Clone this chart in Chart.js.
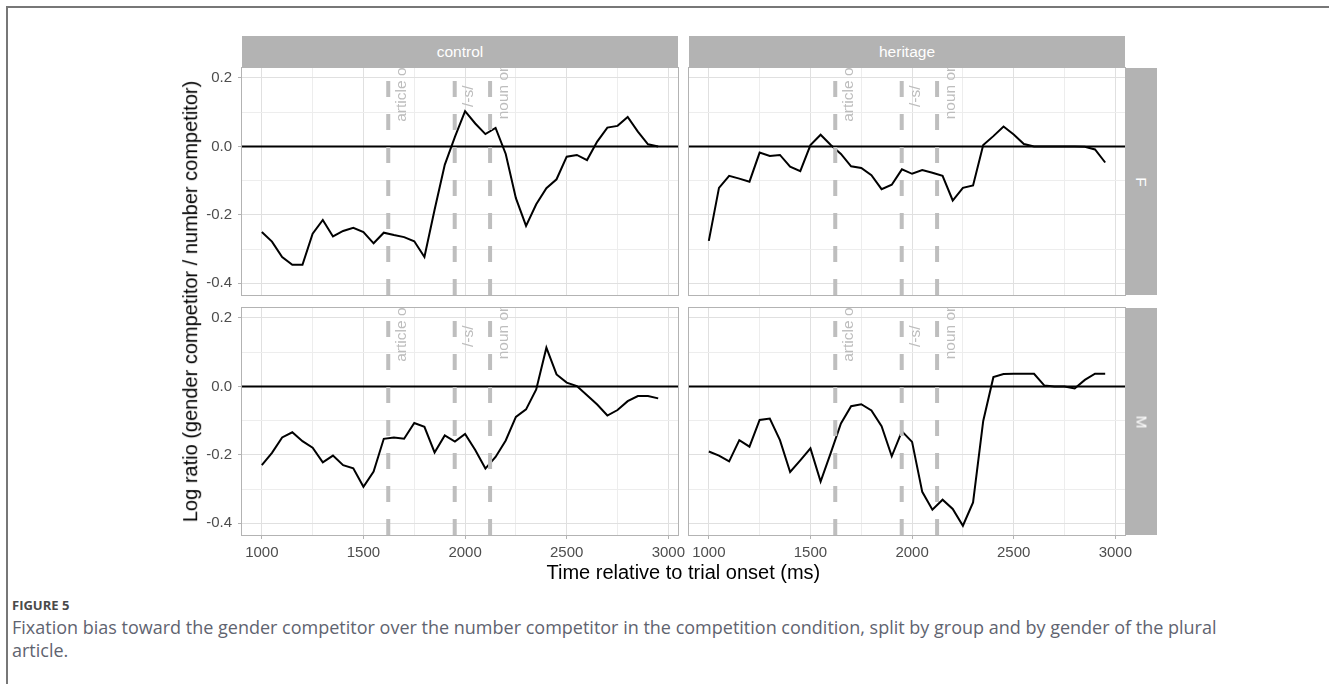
<!DOCTYPE html>
<html>
<head>
<meta charset="utf-8">
<script src="https://cdn.jsdelivr.net/npm/chart.js@4.4.1/dist/chart.umd.min.js"></script>
<style>
  html, body { margin: 0; padding: 0; background: #fff; }
  body { width: 1329px; height: 684px; position: relative; overflow: hidden; font-family: "Liberation Sans", Arial, sans-serif; }
  .frame { position: absolute; left: 6px; top: 6px; width: 1400px; height: 800px; border-top: 2px solid #777; border-left: 2px solid #777; }
  canvas { position: absolute; }
  .strip { position: absolute; background: #b3b3b3; color: #fff; font-size: 15.5px; display: flex; align-items: center; justify-content: center; }
  .strip.side span { display: inline-block; transform: rotate(90deg); }
  .axis-title { position: absolute; font-size: 20px; color: #000; white-space: nowrap; }
  .caption-label { position: absolute; left: 12px; top: 596px; font-family: "Open Sans", sans-serif; font-weight: 700; font-size: 13px; color: #4a4a4a; }
  .caption { position: absolute; left: 12px; top: 616px; font-family: "Open Sans", sans-serif; font-size: 18px; line-height: 23px; color: #5f6470; white-space: nowrap; }
</style>
</head>
<body>
<div class="frame"></div>

<canvas id="cF"></canvas>
<canvas id="hF"></canvas>
<canvas id="cM"></canvas>
<canvas id="hM"></canvas>

<div class="strip" style="left:242px; top:36px; width:436px; height:32px;">control</div>
<div class="strip" style="left:689px; top:36px; width:436px; height:32px;">heritage</div>
<div class="strip side" style="left:1125px; top:68px; width:32px; height:227px;"><span>F</span></div>
<div class="strip side" style="left:1125px; top:308px; width:32px; height:227px;"><span>M</span></div>

<div class="axis-title" id="xTitle">Time relative to trial onset (ms)</div>
<div class="axis-title" id="yTitle">Log ratio (gender competitor / number competitor)</div>

<div class="caption-label">FIGURE 5</div>
<div class="caption">Fixation bias toward the gender competitor over the number competitor in the competition condition, split by group and by gender of the plural<br>article.</div>

<script>
// time bins (ms)
const times = [1000, 1050, 1100, 1150, 1200, 1250, 1300, 1350, 1400, 1450,
               1500, 1550, 1600, 1650, 1700, 1750, 1800, 1850, 1900, 1950,
               2000, 2050, 2100, 2150, 2200, 2250, 2300, 2350, 2400, 2450,
               2500, 2550, 2600, 2650, 2700, 2750, 2800, 2850, 2900, 2950];

// log ratio per group x article gender
const controlF = [-0.250, -0.278, -0.323, -0.346, -0.346, -0.255, -0.215, -0.263, -0.247, -0.238,
                  -0.250, -0.283, -0.252, -0.259, -0.265, -0.277, -0.323, -0.185, -0.054, 0.028,
                  0.103, 0.067, 0.036, 0.054, -0.022, -0.151, -0.232, -0.169, -0.122, -0.096,
                  -0.030, -0.025, -0.040, 0.014, 0.055, 0.060, 0.086, 0.043, 0.006, 0.000];
const controlM = [-0.230, -0.194, -0.149, -0.134, -0.160, -0.179, -0.222, -0.202, -0.230, -0.239,
                  -0.293, -0.249, -0.153, -0.149, -0.153, -0.107, -0.118, -0.193, -0.143, -0.161,
                  -0.139, -0.186, -0.240, -0.206, -0.158, -0.089, -0.067, -0.009, 0.113, 0.035,
                  0.011, 0.001, -0.026, -0.053, -0.085, -0.069, -0.043, -0.028, -0.028, -0.035];
const heritageF = [-0.276, -0.121, -0.086, -0.094, -0.103, -0.018, -0.028, -0.025, -0.059, -0.072,
                   0.004, 0.034, 0.004, -0.022, -0.058, -0.063, -0.084, -0.125, -0.112, -0.067,
                   -0.080, -0.069, -0.077, -0.086, -0.158, -0.121, -0.114, 0.004, 0.030, 0.058,
                   0.035, 0.007, 0.000, 0.000, 0.000, 0.000, 0.000, -0.001, -0.009, -0.047];
const heritageM = [-0.190, -0.202, -0.219, -0.157, -0.176, -0.098, -0.094, -0.157, -0.250, -0.216,
                   -0.181, -0.278, -0.194, -0.108, -0.058, -0.052, -0.070, -0.116, -0.204, -0.131,
                   -0.162, -0.308, -0.360, -0.331, -0.358, -0.407, -0.339, -0.101, 0.027, 0.036,
                   0.037, 0.037, 0.037, 0.003, 0.000, 0.000, -0.006, 0.019, 0.037, 0.037];

// event markers
const eventTimes = [1622, 1949, 2123];
const eventLabels = ['article onset', '/-s/', 'noun onset'];
const eventLabelY = [0.072, 0.115, 0.079];

// axis breaks
const xMajor = [1000, 1500, 2000, 2500, 3000];
const xMinor = [1250, 1750, 2250, 2750];
const yMajor = [-0.4, -0.2, 0.0, 0.2];
const yMinor = [-0.3, -0.1, 0.1];

const X_MIN = 902.5, X_MAX = 3047.5;
const Y_MIN = -0.434, Y_MAX = 0.229;

const M = 40;           // margin around each plot area inside its canvas
const PW = 436, PH = 227;
const FONT = '"Liberation Sans", Arial, sans-serif';

const isMajor = (list, v) => list.some(m => Math.abs(m - v) < 1e-9);

// zero line under the data, event lines and labels above it, frame last
const panelDecor = {
  id: 'panelDecor',
  beforeDatasetsDraw(chart) {
    const { ctx, chartArea: a, scales: { y } } = chart;
    const y0 = y.getPixelForValue(0);
    ctx.save();
    ctx.strokeStyle = '#000';
    ctx.lineWidth = 2;
    ctx.beginPath();
    ctx.moveTo(a.left, y0);
    ctx.lineTo(a.right, y0);
    ctx.stroke();
    ctx.restore();
  },
  afterDatasetsDraw(chart) {
    const { ctx, chartArea: a, scales: { x, y } } = chart;
    ctx.save();
    ctx.beginPath();
    ctx.rect(a.left, a.top, a.right - a.left, a.bottom - a.top);
    ctx.clip();
    ctx.strokeStyle = '#bebebe';
    ctx.lineWidth = 4;
    ctx.setLineDash([16, 17]);
    eventTimes.forEach(t => {
      const px = x.getPixelForValue(t);
      ctx.beginPath();
      ctx.moveTo(px, a.bottom);
      ctx.lineTo(px, a.top);
      ctx.stroke();
    });
    ctx.setLineDash([]);
    ctx.fillStyle = '#bdbdbd';
    ctx.font = '15.5px ' + FONT;
    ctx.textAlign = 'left';
    ctx.textBaseline = 'alphabetic';
    eventTimes.forEach((t, i) => {
      ctx.save();
      ctx.translate(x.getPixelForValue(t) + 18, y.getPixelForValue(eventLabelY[i]));
      ctx.rotate(-Math.PI / 2);
      ctx.fillText(eventLabels[i], 0, 0);
      ctx.restore();
    });
    ctx.restore();
  },
  afterDraw(chart) {
    const { ctx, chartArea: a } = chart;
    ctx.save();
    ctx.strokeStyle = '#b3b3b3';
    ctx.lineWidth = 1;
    ctx.strokeRect(a.left - 0.5, a.top - 0.5, a.right - a.left + 1, a.bottom - a.top + 1);
    ctx.restore();
  }
};

function makePanel(id, values, left, top, showX, showY) {
  const el = document.getElementById(id);
  el.width = PW + 2 * M;
  el.height = PH + 2 * M;
  el.style.left = (left - M) + 'px';
  el.style.top = (top - M) + 'px';

  return new Chart(el, {
    type: 'line',
    data: {
      datasets: [{
        data: times.map((t, i) => ({ x: t, y: values[i] })),
        borderColor: '#000',
        borderWidth: 2,
        pointRadius: 0,
        tension: 0,
        fill: false
      }]
    },
    options: {
      responsive: false,
      animation: false,
      devicePixelRatio: 1,
      layout: { padding: { left: showY ? 0 : M, right: M, top: M, bottom: showX ? 0 : M } },
      plugins: { legend: { display: false }, tooltip: { enabled: false } },
      scales: {
        x: {
          type: 'linear',
          min: X_MIN,
          max: X_MAX,
          afterBuildTicks: s => { s.ticks = xMajor.concat(xMinor).sort((p, q) => p - q).map(v => ({ value: v })); },
          afterFit: s => { s.height = showX ? M : 0; },
          border: { display: false },
          grid: {
            color: c => isMajor(xMajor, c.tick.value) ? '#e0e0e0' : '#ededed',
            lineWidth: 1,
            drawTicks: showX,
            tickLength: 4,
            tickColor: c => isMajor(xMajor, c.tick.value) ? '#b3b3b3' : 'rgba(0,0,0,0)'
          },
          ticks: {
            display: showX,
            autoSkip: false,
            maxRotation: 0,
            padding: 5,
            color: '#4d4d4d',
            font: { family: FONT, size: 15 },
            callback: v => isMajor(xMajor, v) ? String(v) : ''
          }
        },
        y: {
          type: 'linear',
          min: Y_MIN,
          max: Y_MAX,
          afterBuildTicks: s => { s.ticks = yMajor.concat(yMinor).sort((p, q) => p - q).map(v => ({ value: v })); },
          afterFit: s => { s.width = showY ? M : 0; },
          border: { display: false },
          grid: {
            color: c => isMajor(yMajor, c.tick.value) ? '#e0e0e0' : '#ededed',
            lineWidth: 1,
            drawTicks: showY,
            tickLength: 4,
            tickColor: c => isMajor(yMajor, c.tick.value) ? '#b3b3b3' : 'rgba(0,0,0,0)'
          },
          ticks: {
            display: showY,
            autoSkip: false,
            padding: 6,
            color: '#4d4d4d',
            font: { family: FONT, size: 15 },
            callback: v => isMajor(yMajor, v) ? v.toFixed(1) : ''
          }
        }
      }
    },
    plugins: [panelDecor]
  });
}

makePanel('cF', controlF, 242, 68, false, true);
makePanel('hF', heritageF, 689, 68, false, false);
makePanel('cM', controlM, 242, 308, true, true);
makePanel('hM', heritageM, 689, 308, true, false);

// axis titles centred on the panel block
const xTitle = document.getElementById('xTitle');
xTitle.style.left = (683.5 - xTitle.offsetWidth / 2) + 'px';
xTitle.style.top = (572 - xTitle.offsetHeight / 2) + 'px';

const yTitle = document.getElementById('yTitle');
yTitle.style.left = (190 - yTitle.offsetWidth / 2) + 'px';
yTitle.style.top = (301 - yTitle.offsetHeight / 2) + 'px';
yTitle.style.transform = 'rotate(-90deg)';
</script>
</body>
</html>
